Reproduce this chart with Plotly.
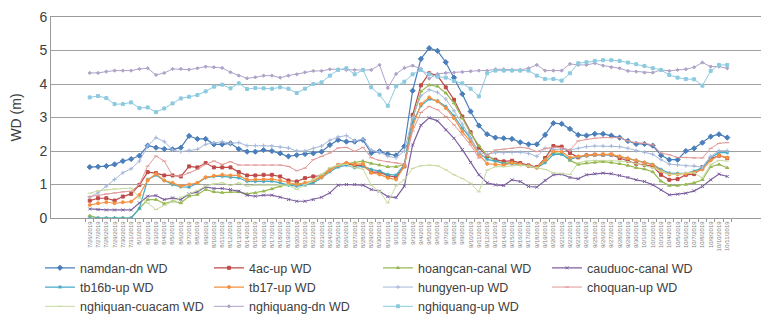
import plotly.graph_objects as go
import pandas as pd

dates = [f"{d.month}/{d.day}/{d.year}" for d in pd.date_range("2019-07-26", "2019-10-11")]

namdan_dn = [1.52,1.53,1.55,1.6,1.7,1.76,1.86,2.16,2.1,2.06,2.05,2.1,2.45,2.36,2.36,2.2,2.2,2.23,2.06,1.98,1.98,2.03,2.0,
             1.93,1.84,1.88,1.91,1.93,1.98,2.18,2.33,2.28,2.28,2.33,1.94,1.99,1.91,1.87,2.14,3.8,4.75,5.07,4.99,4.65,4.19,3.7,3.18,2.76,2.5,
             2.4,2.38,2.36,2.26,2.2,2.2,2.48,2.83,2.81,2.66,2.48,2.46,2.51,2.51,2.46,2.4,2.3,2.21,2.21,2.16,1.87,1.74,1.74,2.0,2.08,2.25,2.43,2.5,2.4]
ac4_up = [0.52,0.59,0.59,0.52,0.64,0.72,0.99,1.37,1.34,1.27,1.27,1.24,1.54,1.51,1.64,1.51,1.51,1.51,1.37,1.27,1.27,1.29,1.29,
          1.24,1.12,1.09,1.19,1.24,1.26,1.44,1.57,1.62,1.57,1.57,1.37,1.37,1.26,1.22,1.54,3.08,3.96,4.32,4.25,3.9,3.53,3.03,2.56,2.1,1.84,
          1.74,1.69,1.71,1.64,1.57,1.52,1.79,2.15,2.13,1.94,1.81,1.87,1.89,1.89,1.89,1.79,1.71,1.62,1.59,1.54,1.29,1.14,1.16,1.29,1.31,1.52,1.77,1.86,1.79]
hoangcan_canal = [0.07,0,0,0,0,0,0.28,0.55,0.55,0.43,0.5,0.45,0.65,0.7,0.85,0.78,0.76,0.78,0.78,0.72,0.75,0.8,0.87,
                  0.95,1.0,1.02,1.03,1.1,1.25,1.45,1.56,1.62,1.66,1.7,1.63,1.58,1.53,1.53,1.6,2.95,3.78,3.97,3.93,3.73,3.43,2.98,2.53,2.16,1.87,
                  1.7,1.63,1.66,1.6,1.55,1.5,1.75,1.95,1.92,1.72,1.6,1.64,1.66,1.68,1.66,1.62,1.57,1.5,1.46,1.38,1.1,0.97,0.97,1.0,1.05,1.14,1.53,1.6,1.5]
cauduoc_canal = [0.27,0.25,0.24,0.24,0.24,0.24,0.45,0.65,0.67,0.55,0.6,0.55,0.72,0.78,0.93,0.88,0.88,0.85,0.8,0.68,0.65,0.68,0.68,
                 0.62,0.55,0.5,0.5,0.55,0.62,0.75,0.98,1.0,1.0,0.98,0.85,0.8,0.64,0.61,0.95,2.18,2.77,2.99,2.9,2.63,2.38,2.04,1.66,1.29,1.05,
                 0.99,0.97,1.14,1.09,0.94,0.92,1.12,1.29,1.31,1.21,1.17,1.29,1.32,1.34,1.32,1.27,1.21,1.14,1.09,0.99,0.84,0.69,0.71,0.74,0.81,0.94,1.14,1.31,1.24]
tb16b_up = [0,0,0,0,0,0,0.29,1.15,1.28,1.12,1.0,0.93,0.92,1.04,1.2,1.24,1.24,1.22,1.2,1.09,1.09,1.09,1.1,
            1.05,0.98,0.95,0.98,1.05,1.2,1.38,1.52,1.58,1.5,1.55,1.45,1.4,1.3,1.28,1.6,2.85,3.35,3.55,3.5,3.33,3.05,2.68,2.38,1.95,1.75,
            1.7,1.62,1.62,1.6,1.55,1.5,1.65,1.9,1.9,1.75,1.82,1.86,1.88,1.88,1.88,1.83,1.78,1.72,1.66,1.6,1.45,1.34,1.33,1.33,1.4,1.5,1.8,1.95,1.95]
tb17_up = [0.39,0.44,0.47,0.44,0.47,0.49,0.69,1.13,1.32,1.12,1.05,0.95,1.0,1.05,1.22,1.26,1.29,1.27,1.27,1.14,1.15,1.15,1.16,
           1.12,1.05,1.0,1.05,1.12,1.22,1.42,1.58,1.65,1.6,1.62,1.35,1.3,1.2,1.15,1.55,2.72,3.4,3.6,3.48,3.28,2.98,2.58,2.28,1.89,1.62,
           1.6,1.58,1.65,1.6,1.55,1.5,1.72,2.0,1.98,1.8,1.84,1.87,1.89,1.9,1.9,1.84,1.78,1.72,1.66,1.59,1.4,1.3,1.3,1.32,1.36,1.45,1.72,1.87,1.8]
hungyen_up = [0.62,0.75,0.95,1.15,1.35,1.47,1.7,2.15,2.4,2.28,2.03,1.98,2.02,2.05,2.2,2.25,2.28,2.23,2.25,2.16,2.16,2.16,2.15,
              2.12,2.09,2.0,2.0,2.08,2.15,2.32,2.42,2.46,2.3,2.36,2.03,1.97,1.84,1.8,2.0,3.0,3.65,3.83,3.75,3.55,3.2,2.8,2.4,1.95,1.9,
              1.95,1.95,1.96,1.96,1.93,1.84,2.08,2.05,2.05,2.03,2.08,2.13,2.15,2.15,2.15,2.13,2.08,2.01,1.96,1.9,1.74,1.61,1.59,1.56,1.56,1.52,1.84,2.01,2.01]
choquan_up = [0.64,0.68,0.72,0.75,0.78,0.8,1.0,1.55,1.85,1.7,1.27,1.25,1.35,1.45,1.6,1.7,1.6,1.68,1.58,1.58,1.58,1.58,1.58,
              1.58,1.54,1.41,1.49,1.74,1.84,1.94,2.09,2.11,1.99,2.11,1.8,1.72,1.68,1.65,1.6,2.6,3.15,3.33,3.23,3.03,2.78,2.48,2.18,1.79,1.88,
              2.03,2.05,2.08,2.11,2.08,1.98,2.08,2.11,2.1,2.03,2.3,2.35,2.38,2.4,2.4,2.4,2.3,2.25,2.23,2.18,1.94,1.89,1.81,1.81,1.79,1.79,2.08,2.23,2.25]
nghiquan_cuacam = [0.74,0.81,0.84,0.87,0.88,0.89,0.6,0.45,0.25,0.38,0.5,0.62,0.72,0.82,0.95,1.02,1.05,0.97,1.05,0.95,0.98,0.98,0.98,
                   1.0,0.98,0.85,0.99,1.14,1.3,1.5,1.58,1.6,1.5,1.46,0.98,0.79,0.45,0.96,1.14,1.48,1.56,1.58,1.56,1.44,1.29,1.18,1.04,0.78,1.43,
                   1.53,1.53,1.56,1.58,1.55,1.5,1.45,1.35,1.32,1.3,1.65,1.7,1.72,1.72,1.72,1.7,1.68,1.62,1.58,1.5,1.4,1.3,1.3,1.35,1.35,1.2,1.6,1.72,1.7]
nghiquang_dn = [4.33,4.33,4.37,4.4,4.4,4.4,4.45,4.47,4.27,4.33,4.45,4.45,4.43,4.47,4.52,4.5,4.48,4.35,4.25,4.17,4.2,4.25,4.25,
                4.19,4.25,4.29,4.35,4.39,4.39,4.44,4.44,4.42,4.42,4.42,4.42,4.57,3.88,4.3,4.48,4.55,4.45,4.16,4.3,4.33,4.34,4.36,4.38,4.4,4.4,
                4.44,4.44,4.42,4.42,4.47,4.57,4.4,4.4,4.4,4.6,4.57,4.57,4.62,4.55,4.5,4.47,4.39,4.37,4.34,4.34,4.42,4.39,4.42,4.44,4.5,4.64,4.52,4.52,4.47]
nghiquang_up = [3.6,3.64,3.58,3.4,3.4,3.45,3.28,3.3,3.16,3.27,3.42,3.57,3.62,3.67,3.78,3.92,3.98,3.87,4.02,3.85,3.88,3.87,3.86,
                3.9,3.86,3.73,3.86,4.0,4.05,4.25,4.42,4.47,4.29,4.42,3.9,3.68,3.35,3.93,4.07,4.29,4.42,4.29,4.22,4.19,4.09,4.02,3.86,3.63,4.32,
                4.4,4.4,4.4,4.4,4.4,4.25,4.15,4.15,4.1,4.32,4.62,4.65,4.69,4.71,4.71,4.69,4.64,4.59,4.54,4.47,4.42,4.27,4.19,4.15,4.14,3.95,4.39,4.57,4.57]

series = [
    ("namdan-dn WD", namdan_dn, "#4A7EBB", "diamond", 4, 1.2),
    ("4ac-up WD", ac4_up, "#BE4B48", "square", 3, 1.2),
    ("hoangcan-canal WD", hoangcan_canal, "#98B954", "triangle-up", 3, 1.2),
    ("cauduoc-canal WD", cauduoc_canal, "#7D60A0", "x-thin", 3, 1.2),
    ("tb16b-up WD", tb16b_up, "#46AAC5", "asterisk", 3, 1.2),
    ("tb17-up WD", tb17_up, "#F69240", "circle", 3, 1.2),
    ("hungyen-up WD", hungyen_up, "#A5B8DA", "cross-thin", 3, 1.0),
    ("choquan-up WD", choquan_up, "#E09896", "line-ew", 3, 1.0),
    ("nghiquan-cuacam WD", nghiquan_cuacam, "#C6DA9E", "line-ew", 3, 1.0),
    ("nghiquang-dn WD", nghiquang_dn, "#AFA3C8", "diamond", 2.5, 1.0),
    ("nghiquang-up WD", nghiquang_up, "#8DCADF", "square", 3, 1.0),
]

fig = go.Figure()
for name, vals, col, sym, msz, lw in series:
    fig.add_trace(go.Scatter(
        x=dates, y=vals, name=name, mode="lines+markers",
        line=dict(color=col, width=lw),
        marker=dict(symbol=sym, size=msz, color=col, line=dict(color=col, width=1)),
    ))

# the page body adds an 8 px offset, so the figure is drawn slightly smaller
fig.update_layout(
    width=761, height=321,
    margin=dict(l=43, r=3, t=9, b=111, autoexpand=False),
    paper_bgcolor="white", plot_bgcolor="white",
    font=dict(family="Liberation Sans, Arial, sans-serif", color="#404040"),
    showlegend=True,
    legend=dict(
        orientation="h", x=-0.0154, y=-0.175, xanchor="left", yanchor="top",
        entrywidth=124, font=dict(size=12.5, color="#404040"),
        tracegroupgap=0, itemwidth=30,
    ),
)
fig.update_xaxes(
    type="category", tickangle=-90, tickfont=dict(size=6, color="#808080"),
    showline=True, linecolor="#9A9A9A", linewidth=1, mirror=True,
    ticks="outside", ticklen=3, tickcolor="#9A9A9A", tickson="boundaries",
    showgrid=False,
)
fig.update_yaxes(
    range=[0, 6], dtick=1, tickfont=dict(size=14, color="#404040"),
    title=dict(text="WD (m)", font=dict(size=14, color="#404040"), standoff=17),
    showline=True, linecolor="#9A9A9A", linewidth=1, mirror=True,
    showgrid=True, gridcolor="#A0A0A0", gridwidth=1, zeroline=False,
    ticks="",
)

fig.write_html("out.html")
